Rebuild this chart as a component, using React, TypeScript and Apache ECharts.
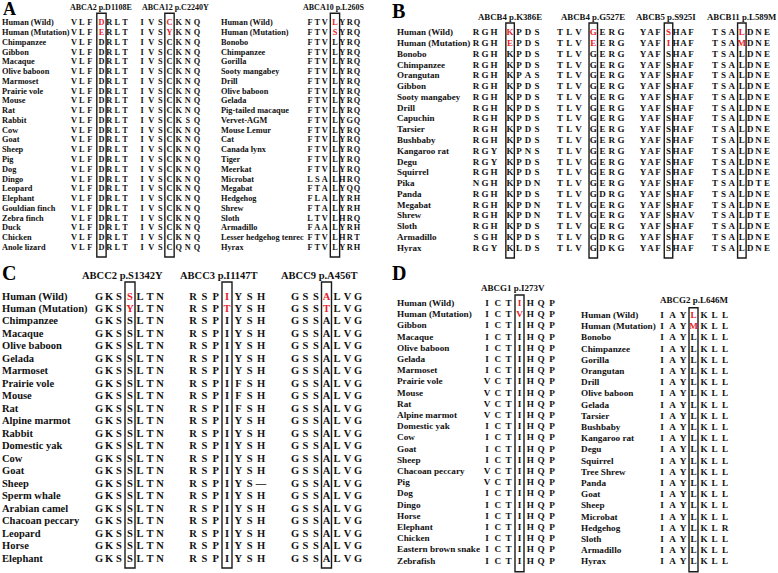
import React, { useEffect, useRef } from "react";
import * as echarts from "echarts";

// ---------- Data ----------
const speciesA1 = ["Human (Wild)", "Human (Mutation)", "Chimpanzee", "Gibbon", "Macaque", "Olive baboon", "Marmoset", "Prairie vole", "Mouse", "Rat", "Rabbit", "Cow", "Goat", "Sheep", "Pig", "Dog", "Dingo", "Leopard", "Elephant", "Gouldian finch", "Zebra finch", "Duck", "Chicken", "Anole lizard"];
const seqABCA2 = ["VLFDRLT", "VLFERLT", "VLFDRLT", "VLFDRLT", "VLFDRLT", "VLFDRLT", "VLFDRLT", "VLFDRLT", "VLFDRLT", "VLFDRLT", "VLFDRLT", "VLFDRLT", "VLFDRLT", "VLFDRLT", "VLFDRLT", "VLFDRLT", "VLFDRLT", "VLFDRLT", "VLFDRLT", "VLFDRLT", "VLFDRLT", "VLFDRLT", "VLFDRLT", "VLFDRLT"];
const seqABCA12 = ["IVSCKNQ", "IVSYKNQ", "IVSCKNQ", "IVSCKNQ", "IVSCKNQ", "IVSCKNQ", "IVSCKNQ", "IVSCKNQ", "IVSCKNQ", "IVSCKNQ", "IVSCKSQ", "IVSCKNQ", "IVSCKNQ", "IVSCKNQ", "IVSCKNQ", "IVSCKNQ", "IVSCKNQ", "IVSCKNQ", "IVSCKNQ", "IVSCKNQ", "IVSCKNQ", "IVSCKNQ", "IVSCKNQ", "IVSCQNQ"];

const speciesA2 = ["Human (Wild)", "Human (Mutation)", "Bonobo", "Chimpanzee", "Gorilla", "Sooty mangabey", "Drill", "Olive baboon", "Gelada", "Pig-tailed macaque", "Vervet-AGM", "Mouse Lemur", "Cat", "Canada lynx", "Tiger", "Meerkat", "Microbat", "Megabat", "Hedgehog", "Shrew", "Sloth", "Armadillo", "Lesser hedgehog tenrec", "Hyrax"];
const seqABCA10 = ["FTVLYRQ", "FTVSYRQ", "FTVLYRQ", "FTVLYRQ", "FTVLYRQ", "FTVLYRQ", "FTVLYRQ", "FTVLYRQ", "FTVLYRQ", "FTVLYRQ", "FTVLYGQ", "FTVLYRQ", "FTVLYRQ", "FTVLYRQ", "FTVLYRQ", "FTVLYRQ", "LSALHRQ", "FTALYQQ", "FLALYRH", "FTALYRH", "LTVLHRQ", "FAALYRH", "FTVLHRT", "FTVLYRH"];

const speciesB = ["Human (Wild)", "Human (Mutation)", "Bonobo", "Chimpanzee", "Orangutan", "Gibbon", "Sooty mangabey", "Drill", "Capuchin", "Tarsier", "Bushbaby", "Kangaroo rat", "Degu", "Squirrel", "Pika", "Panda", "Megabat", "Shrew", "Sloth", "Armadillo", "Hyrax"];
const seqABCB4a = ["RGHKPDS", "RGHEPDS", "RGHKPDS", "RGHKPDS", "RGHKPAS", "RGHKPDS", "RGHKPDS", "RGHKPDS", "RGHKPDS", "RGHKPDS", "RGHKPDS", "RGYKPNS", "RGYKPDS", "RGHKPDS", "NGHKPDN", "RGHKPDS", "RGHKPDN", "RGHKPDN", "RGHKPDS", "SGHKPDS", "RGYKLDS"];
const seqABCB4b = ["TLVGERG", "TLVEERG", "TLVGERG", "TLVGERG", "TLVGERG", "TLVGERG", "TLVGERG", "TLVGERG", "TLVGERG", "TLVGERG", "TLVGERG", "TLVGERG", "TLVGERG", "TLVGERG", "TLVGERG", "TLVGDRG", "TLVGERG", "TLVGERG", "TLVGERG", "TLVGDRG", "TLVGDKG"];
const seqABCB5 = ["YAFSHAF", "YAFIHAF", "YAFSHAF", "YAFSHAF", "YAFSHAF", "YAFSHAF", "YAFSHAF", "YAFSHAF", "YAFSHAF", "YAFSHAF", "YAFSHAF", "YAFSHAF", "YAFSHAF", "YAFSHAF", "YAFSHAF", "YAFSHAF", "YAFSHAF", "YAFSHAV", "YAFSHAF", "YAFSHAF", "YAFSHAF"];
const seqABCB11 = ["TSALDNE", "TSAMDNE", "TSALDNE", "TSALDNE", "TSALDNE", "TSALDNE", "TSALDNE", "TSALDNE", "TSALDNE", "TSALDNE", "TSALDNE", "TSALDNE", "TSALDNE", "TSALDNE", "TSALDTE", "TSALDNE", "TSALDNE", "TSALDTE", "TSALDNE", "TSALDNE", "TSALDNE"];

const speciesC = ["Human (Wild)", "Human (Mutation)", "Chimpanzee", "Macaque", "Olive baboon", "Gelada", "Marmoset", "Prairie vole", "Mouse", "Rat", "Alpine marmot", "Rabbit", "Domestic yak", "Cow", "Goat", "Sheep", "Sperm whale", "Arabian camel", "Chacoan peccary", "Leopard", "Horse", "Elephant"];
const seqABCC2 = ["GKSSLTN", "GKSYLTN", "GKSSLTN", "GKSSLTN", "GKSSLTN", "GKSSLTN", "GKSSLTN", "GKSSLTN", "GKSSLTN", "GKSSLTN", "GKSSLTN", "GKSSLTN", "GKSSLTN", "GKSSLTN", "GKSSLTN", "GKSSLTN", "GKSSLTN", "GKSSLTN", "GKSSLTN", "GKSSLTN", "GKSSLTN", "GKSSLTN"];
const seqABCC3 = ["RSPIYSH", "RSPTYSH", "RSPIYSH", "RSPIYSH", "RSPIYSH", "RSPIYSH", "RSPIYSH", "RSPIFSH", "RSPIFSH", "RSPIFSH", "RSPIYSH", "RSPIYSH", "RSPIYSH", "RSPIYSH", "RSPIYSH", "RSPIYS—", "RSPIYSH", "RSPIYSH", "RSPIYSH", "RSPIYSH", "RSPIYSH", "RSPIYSH"];
const seqABCC9 = ["GSSALVG", "GSSTLVG", "GSSALVG", "GSSALVG", "GSSALVG", "GSSALVG", "GSSALVG", "GSSALVG", "GSSALVG", "GSSALVG", "GSSALVG", "GSSALVG", "GSSALVG", "GSSALVG", "GSSALVG", "GSSALVG", "GSSALVG", "GSSALVG", "GSSALVG", "GSSALVG", "GSSALVG", "GSSALVG"];

const speciesD1 = ["Human (Wild)", "Human (Mutation)", "Gibbon", "Macaque", "Olive baboon", "Gelada", "Marmoset", "Prairie vole", "Mouse", "Rat", "Alpine marmot", "Domestic yak", "Cow", "Goat", "Sheep", "Chacoan peccary", "Pig", "Dog", "Dingo", "Horse", "Elephant", "Chicken", "Eastern brown snake", "Zebrafish"];
const seqABCG1 = ["ICTIHQP", "ICTVHQP", "ICTIHQP", "ICTIHQP", "ICTIHQP", "ICTIHQP", "ICTIHQP", "VCTIHQP", "VCTIHQP", "VCTIHQP", "VCTIHQP", "ICTIHQP", "ICTIHQP", "ICTIHQP", "ICTIHQP", "VCTIHQP", "VCTIHQP", "ICTIHQP", "ICTIHQP", "ICTIHQP", "ICTIHQP", "ICTIHQP", "ICTIHQP", "ICTIHQP"];

const speciesD2 = ["Human (Wild)", "Human (Mutation)", "Bonobo", "Chimpanzee", "Gorilla", "Orangutan", "Drill", "Olive baboon", "Gelada", "Tarsier", "Bushbaby", "Kangaroo rat", "Degu", "Squirrel", "Tree Shrew", "Panda", "Goat", "Sheep", "Microbat", "Hedgehog", "Sloth", "Armadillo", "Hyrax"];
const seqABCG2 = ["IAYLKLL", "IAYMKLL", "IAYLKLL", "IAYLKLL", "IAYLKLL", "IAYLKLL", "IAYLKLL", "IAYLKLL", "IAYLKLL", "IAYLKLL", "IAYLKLL", "IAYLKLL", "IAYLKLL", "IAYLKLL", "IAYLKLL", "IAYLKLL", "IAYLKLL", "IAYLKLL", "IAYLKLL", "IAYLKLR", "IAYLKLL", "IAYLKLL", "IAYLKLL"];

const blockTitles = ["ABCA2 p.D1108E", "ABCA12 p.C2240Y", "ABCA10 p.L260S", "ABCB4 p.K386E", "ABCB4 p.G527E", "ABCB5 p.S925I", "ABCB11 p.L589M", "ABCC2 p.S1342Y", "ABCC3 p.I1147T", "ABCC9 p.A456T", "ABCG1 p.I273V", "ABCG2 p.L646M"];
const panelLabels = ["A", "B", "C", "D"];
const mutatedRows = [0, 1];
const mutatedCol = 3;

// ---------- Layout (styling only) ----------
const FONT = '"Liberation Serif", "Times New Roman", serif';
const RED = "#e8202a";
const INK = "#111111";

type Block = { seqs: string[]; title: string; x0: number; x6: number; gap: number; titleX: number; titleY: number };
type Group = { species: string[]; namesX: number; y0: number; sp: number; font: number; titleFont: number; boxTop: number; boxBot: number; boxW: number; blocks: Block[] };

const groups: Group[] = [
  {
    species: speciesA1, namesX: 2, y0: 22.7, sp: 9.77, font: 8.3, titleFont: 8, boxTop: 0.96, boxBot: 0.98, boxW: 9.3,
    blocks: [
      { seqs: seqABCA2, title: blockTitles[0], x0: 74, x6: 125, gap: 0.5, titleX: 70, titleY: 7 },
      { seqs: seqABCA12, title: blockTitles[1], x0: 142, x6: 197, gap: 0, titleX: 142, titleY: 7 },
    ],
  },
  {
    species: speciesA2, namesX: 221, y0: 22.7, sp: 9.77, font: 8.3, titleFont: 8, boxTop: 0.96, boxBot: 0.98, boxW: 9.3,
    blocks: [{ seqs: seqABCA10, title: blockTitles[2], x0: 310, x6: 357, gap: 0.4, titleX: 303, titleY: 7 }],
  },
  {
    species: speciesB, namesX: 397, y0: 32.3, sp: 10.77, font: 9, titleFont: 8.8, boxTop: 0.86, boxBot: 0.96, boxW: 8.5,
    blocks: [
      { seqs: seqABCB4a, title: blockTitles[3], x0: 476, x6: 537, gap: 0.8, titleX: 478, titleY: 17 },
      { seqs: seqABCB4b, title: blockTitles[4], x0: 560, x6: 621, gap: 0.6, titleX: 561, titleY: 17 },
      { seqs: seqABCB5, title: blockTitles[5], x0: 643, x6: 691, gap: 0.4, titleX: 636, titleY: 17 },
      { seqs: seqABCB11, title: blockTitles[6], x0: 715, x6: 767, gap: 0.2, titleX: 707, titleY: 17 },
    ],
  },
  {
    species: speciesC, namesX: 2, y0: 296, sp: 12.48, font: 10.5, titleFont: 10.5, boxTop: 1.12, boxBot: 0.8, boxW: 10,
    blocks: [
      { seqs: seqABCC2, title: blockTitles[7], x0: 99, x6: 160, gap: 0.1, titleX: 82, titleY: 275 },
      { seqs: seqABCC3, title: blockTitles[8], x0: 193, x6: 261, gap: 0, titleX: 180, titleY: 275 },
      { seqs: seqABCC9, title: blockTitles[9], x0: 295, x6: 358, gap: 0, titleX: 281, titleY: 275 },
    ],
  },
  {
    species: speciesD1, namesX: 397, y0: 303, sp: 11.2, font: 9.2, titleFont: 9, boxTop: 0.71, boxBot: 0.99, boxW: 9,
    blocks: [{ seqs: seqABCG1, title: blockTitles[10], x0: 487, x6: 552, gap: 0, titleX: 481, titleY: 288 }],
  },
  {
    species: speciesD2, namesX: 581, y0: 315, sp: 11.2, font: 9.2, titleFont: 9, boxTop: 0.65, boxBot: 0.92, boxW: 9,
    blocks: [{ seqs: seqABCG2, title: blockTitles[11], x0: 662, x6: 725, gap: 0, titleX: 660, titleY: 300 }],
  },
];

const labelPos = [
  { x: 3, y: 9, size: 18 },
  { x: 392, y: 10.5, size: 20 },
  { x: 2, y: 272.5, size: 20 },
  { x: 392, y: 272.5, size: 20 },
];

function buildOption() {
  const grid: any[] = [];
  const xAxis: any[] = [];
  const yAxis: any[] = [];
  const series: any[] = [];
  const graphic: any[] = [];
  let gi = 0;
  const addGrid = (left: number, width: number, top: number, height: number, xmax: number, ymax: number) => {
    grid.push({ left, top, width, height, containLabel: false });
    xAxis.push({ type: "value", gridIndex: gi, min: 0, max: xmax, show: false });
    yAxis.push({ type: "value", gridIndex: gi, min: 0, max: ymax, inverse: true, show: false });
    return gi++;
  };

  groups.forEach((g) => {
    const n = g.species.length;
    const height = (n - 1) * g.sp;
    // species names
    const ng = addGrid(g.namesX, 10, g.y0, height, 1, n - 1);
    const names = g.species;
    series.push({
      type: "custom",
      xAxisIndex: ng,
      yAxisIndex: ng,
      silent: true,
      clip: false,
      data: names.map((_, r) => [0, r]),
      renderItem: (params: any, api: any) => {
        const p = api.coord([api.value(0), api.value(1)]);
        return {
          type: "text",
          x: p[0],
          y: p[1],
          style: { text: names[params.dataIndex], fill: INK, fontSize: g.font, fontWeight: "bold", fontFamily: FONT, align: "left", verticalAlign: "middle" },
        };
      },
    });

    g.blocks.forEach((b) => {
      const xmax = 6 + b.gap;
      const bg = addGrid(b.x0, b.x6 - b.x0, g.y0, height, xmax, n - 1);
      const seqs = b.seqs;
      const cells: number[][] = [];
      seqs.forEach((s, r) => {
        for (let c = 0; c < 7; c++) cells.push([c + (c >= mutatedCol ? b.gap : 0), r]);
      });
      series.push({
        type: "custom",
        xAxisIndex: bg,
        yAxisIndex: bg,
        silent: true,
        clip: false,
        data: cells,
        renderItem: (params: any, api: any) => {
          const i = params.dataIndex;
          const r = Math.floor(i / 7);
          const c = i % 7;
          const p = api.coord([api.value(0), api.value(1)]);
          const red = c === mutatedCol && mutatedRows.indexOf(r) >= 0;
          return {
            type: "text",
            x: p[0],
            y: p[1],
            style: { text: seqs[r].charAt(c), fill: red ? RED : INK, fontSize: g.font, fontWeight: "bold", fontFamily: FONT, align: "center", verticalAlign: "middle" },
          };
        },
      });
      // box around the mutated column
      series.push({
        type: "custom",
        xAxisIndex: bg,
        yAxisIndex: bg,
        silent: true,
        clip: false,
        data: [[mutatedCol + b.gap, 0]],
        renderItem: (params: any, api: any) => {
          const xv = api.value(0);
          const t = api.coord([xv, -g.boxTop]);
          const bt = api.coord([xv, n - 1 + g.boxBot]);
          return {
            type: "rect",
            shape: { x: t[0] - g.boxW / 2, y: t[1], width: g.boxW, height: bt[1] - t[1] },
            style: { fill: "none", stroke: "#1a1a1a", lineWidth: 1.4 },
          };
        },
      });
      graphic.push({
        type: "text",
        x: b.titleX,
        y: b.titleY,
        silent: true,
        style: { text: b.title, fill: INK, fontSize: g.titleFont, fontWeight: "bold", fontFamily: FONT, align: "left", verticalAlign: "middle" },
      });
    });
  });

  panelLabels.forEach((l, i) => {
    graphic.push({
      type: "text",
      x: labelPos[i].x,
      y: labelPos[i].y,
      silent: true,
      style: { text: l, fill: "#000", fontSize: labelPos[i].size, fontWeight: "bold", fontFamily: FONT, align: "left", verticalAlign: "middle" },
    });
  });

  return { animation: false, backgroundColor: "#ffffff", grid, xAxis, yAxis, series, graphic };
}

export default function App() {
  const ref = useRef<HTMLDivElement>(null);
  useEffect(() => {
    if (!ref.current) return;
    const chart = echarts.init(ref.current, undefined, { renderer: "svg" });
    chart.setOption(buildOption() as any);
    return () => chart.dispose();
  }, []);
  return <div ref={ref} style={{ position: "absolute", left: 0, top: 0, width: 778, height: 573, background: "#fff" }} />;
}
